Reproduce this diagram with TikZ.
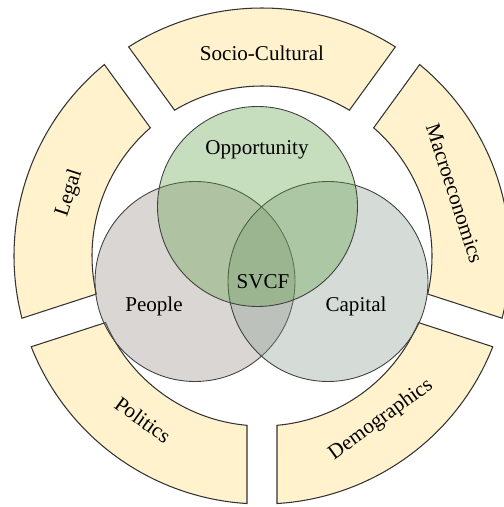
\documentclass[tikz,border=0pt]{standalone}
\usepackage{fontspec}
\setmainfont{Liberation Serif}
\usepackage{tikz}
\definecolor{segfill}{RGB}{255,242,204}
\definecolor{oppgreen}{RGB}{95,160,70}
\definecolor{peoplegray}{RGB}{150,138,130}
\definecolor{capgray}{RGB}{135,155,142}

\begin{document}
\begin{tikzpicture}[auto,
    seg/.style={draw=black!80, line width=0.6pt, fill=segfill},
    venn/.style={draw=black!75, line width=0.5pt, fill opacity=0.35},
    lbl/.style={font=\fontsize{12}{14}\selectfont}]
      \useasboundingbox (-5.24,-5.02) rectangle (4.82,5.12);
      % outer ring
      \draw[seg] (57.47:4.96) arc[start angle=57.47, end angle=122.53, radius=4.96] -- (120.94:3.4) arc[start angle=120.94, end angle=59.06, radius=3.4] -- cycle;
      \draw[seg] (129.47:4.96) arc[start angle=129.47, end angle=194.53, radius=4.96] -- (192.94:3.4) arc[start angle=192.94, end angle=131.06, radius=3.4] -- cycle;
      \draw[seg] (201.47:4.96) arc[start angle=201.47, end angle=266.53, radius=4.96] -- (264.94:3.4) arc[start angle=264.94, end angle=203.06, radius=3.4] -- cycle;
      \draw[seg] (273.47:4.96) arc[start angle=273.47, end angle=338.53, radius=4.96] -- (336.94:3.4) arc[start angle=336.94, end angle=275.06, radius=3.4] -- cycle;
      \draw[seg] (-14.53:4.96) arc[start angle=-14.53, end angle=50.53, radius=4.96] -- (48.94:3.4) arc[start angle=48.94, end angle=-12.94, radius=3.4] -- cycle;
      % venn
      \draw[venn, fill=peoplegray] (-1.34,-0.51) circle (2);
      \draw[venn, fill=capgray] (1.32,-0.51) circle (2);
      \draw[venn, fill=oppgreen] (-0.09,0.99) circle (2);
      \node[lbl] (o) at (-0.1, 2.12) {Opportunity};
      \node[lbl] (p) at (-2.16, -1.0) {People};
      \node[lbl] (c) at (1.88, -1.0) {Capital};
      \node[lbl] (s) at (0.02, -0.52) {SVCF};
      \node[lbl] (sc) at (90:4.05) {Socio-Cultural};
      \node[lbl, rotate=72] (l) at (162:4.05) {Legal};
      \node[lbl, rotate=-72] (m) at (18:4.05) {Macroeconomics};
      \node[lbl, rotate=36] (d) at (306:4.05) {Demographics};
      \node[lbl, rotate=-36] (po) at (234:4.05) {Politics};
    \end{tikzpicture}
\end{document}
